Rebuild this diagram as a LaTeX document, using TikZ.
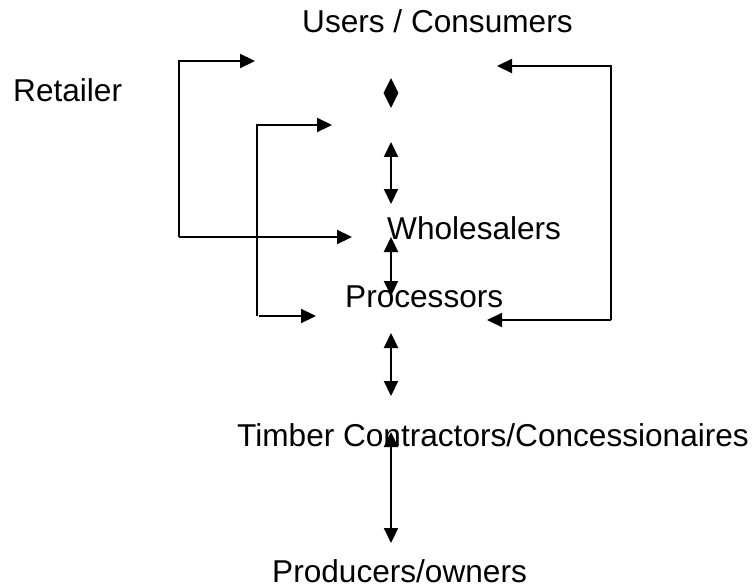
\documentclass[tikz,border=0pt]{standalone}
\usepackage{fontspec}
\setmainfont{Liberation Sans}
\usetikzlibrary{arrows.meta,shapes.geometric}
\begin{document}
\begin{tikzpicture}[x=1pt,y=-1pt,
  lbl/.style={anchor=base west,inner sep=0pt,font=\fontsize{31.6}{37}\selectfont},
  arr/.style={line width=2.2pt,-{Triangle[length=15pt,width=14pt]}},
  darr/.style={line width=2.2pt,{Triangle[length=15pt,width=14pt]}-{Triangle[length=15pt,width=14pt]}}]
\useasboundingbox (0,0) rectangle (754,588);
% labels
\node[lbl] (users) at (302,33) {Users / Consumers};
\node[lbl] (retailer) at (13,102) {Retailer};
\node[lbl] (whole) at (387,239) {Wholesalers};
\node[lbl] (proc) at (345,307) {Processors};
\node[lbl] (timber) at (237,446) {Timber Contractors/Concessionaires};
\node[lbl] (prod) at (272,582) {Producers/owners};
% diamond
\node[diamond,fill=black,inner sep=0pt,minimum width=15pt,minimum height=30pt] (dmd) at (391,93) {};
% coordinates
\coordinate (a1) at (255,61);
\coordinate (a2) at (179,61);
\coordinate (a3) at (179,237);
\coordinate (a4) at (352,237);
\coordinate (b1) at (332,125);
\coordinate (b2) at (257,125);
\coordinate (b3) at (257,316);
\coordinate (b4s) at (259,316);
\coordinate (b4) at (316,316);
\coordinate (c1) at (497,66);
\coordinate (c2) at (611,66);
\coordinate (c3) at (611,320);
\coordinate (c4) at (487,320);
\coordinate (d1t) at (391,142);
\coordinate (d1b) at (391,204);
\coordinate (d2t) at (391,237);
\coordinate (d2b) at (391,296);
\coordinate (d3t) at (391,333);
\coordinate (d3b) at (391,396);
\coordinate (d4t) at (391,432);
\coordinate (d4b) at (391,543);
% brackets
\draw[arr] (a3) -- (a2) -- (a1);
\draw[arr] (a3) -- (a4);
\draw[arr] (b3) -- (b2) -- (b1);
\draw[arr] (b4s) -- (b4);
\draw[arr] (c3) -- (c2) -- (c1);
\draw[arr] (c3) -- (c4);
% double arrows
\draw[darr] (d1t) -- (d1b);
\draw[darr] (d2t) -- (d2b);
\draw[darr] (d3t) -- (d3b);
\draw[darr] (d4t) -- (d4b);
\end{tikzpicture}
\end{document}
